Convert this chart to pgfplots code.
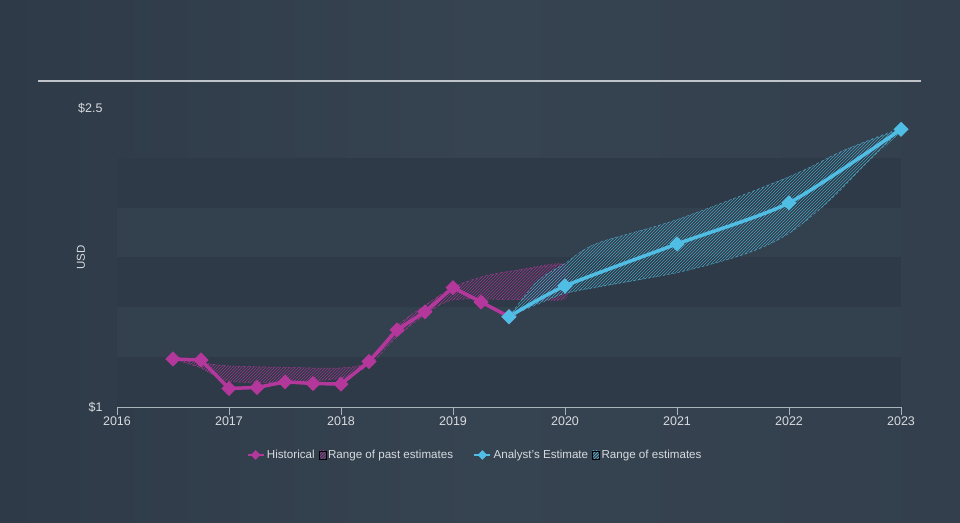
\documentclass[border=0pt]{standalone}
\usepackage{fontspec}
\setmainfont{Liberation Sans}
\usepackage{pgfplots}
\pgfplotsset{compat=1.18}
\usetikzlibrary{patterns}
\definecolor{bgcol}{RGB}{51,63,77}
\definecolor{bgleft}{RGB}{46,58,71}
\definecolor{bgmid}{RGB}{54,67,81}
\definecolor{darkband}{RGB}{46,58,71}
\definecolor{lightband}{RGB}{51,64,78}
\definecolor{topline}{RGB}{190,196,202}
\definecolor{tickcol}{RGB}{170,178,186}
\definecolor{lbl}{RGB}{215,219,223}
\definecolor{magcol}{RGB}{180,55,155}
\definecolor{cyancol}{RGB}{80,190,228}
\colorlet{maghatch}{magcol!80!bgcol}
\colorlet{cyanhatch}{cyancol!75!bgcol}
\begin{document}
\begin{tikzpicture}
\shade[left color=bgleft, right color=bgcol, middle color=bgmid] (0,0) rectangle (960pt,522pt);
\useasboundingbox (0,0) rectangle (960pt,522pt);
\draw[topline, line width=1.2pt] (38pt,441pt) -- (921pt,441pt);
\begin{axis}[
  at={(117pt,115pt)}, anchor=south west,
  scale only axis, width=784pt, height=299pt,
  xmin=2016, xmax=2023, ymin=1, ymax=2.5,
  clip=false,
  axis x line*=bottom, axis y line*=left,
  y axis line style={draw=none},
  x axis line style={tickcol, line width=0.8pt},
  xtick={2016,2017,2018,2019,2020,2021,2022,2023},
  xticklabels={2016,2017,2018,2019,2020,2021,2022,2023},
  ytick={1,2.5}, yticklabels={\$1,\$2.5},
  tick align=outside, major tick length=8pt,
  xtick style={tickcol, line width=0.8pt},
  ytick style={draw=none},
  tick label style={font=\fontsize{12.5}{14}\selectfont, text=lbl},
  xticklabel style={yshift=2pt},
  yticklabel style={xshift=-3pt},
  ylabel={USD},
  every axis y label/.style={at={(rel axis cs:0,0.5)}, xshift=-36pt, rotate=90, anchor=center, font=\fontsize{11.5}{13}\selectfont, text=lbl},
  legend columns=4,
  legend style={at={(0.4566,-0.1605)}, anchor=center, draw=none, fill=none,
    font=\fontsize{11.6}{13}\selectfont, text=lbl,
    /tikz/every even column/.append style={column sep=2pt}},
  legend cell align=left,
]
% bands
\addplot[forget plot, draw=none, fill=darkband] coordinates {(2016,1) (2023,1) (2023,1.25) (2016,1.25)} -- cycle;
\addplot[forget plot, draw=none, fill=lightband] coordinates {(2016,1.25) (2023,1.25) (2023,1.5) (2016,1.5)} -- cycle;
\addplot[forget plot, draw=none, fill=darkband] coordinates {(2016,1.5) (2023,1.5) (2023,1.75) (2016,1.75)} -- cycle;
\addplot[forget plot, draw=none, fill=lightband] coordinates {(2016,1.75) (2023,1.75) (2023,2.0) (2016,2.0)} -- cycle;
\addplot[forget plot, draw=none, fill=darkband] coordinates {(2016,2.0) (2023,2.0) (2023,2.25) (2016,2.25)} -- cycle;

\addlegendimage{legend image code/.code={\draw[magcol, line width=2.5pt] (0pt,0pt) -- (16pt,0pt); \fill[magcol] (8pt,4.5pt) -- (12.5pt,0pt) -- (8pt,-4.5pt) -- (3.5pt,0pt) -- cycle;}}
\addlegendentry{Historical}
\addlegendimage{legend image code/.code={\fill[pattern=north east lines, pattern color=magcol] (0pt,-4pt) rectangle (7pt,4pt);}}
\addlegendentry{Range of past estimates}
\addlegendimage{legend image code/.code={\path (-17pt,0pt); \draw[cyancol, line width=2.5pt] (0pt,0pt) -- (16pt,0pt); \fill[cyancol] (8pt,4.5pt) -- (12.5pt,0pt) -- (8pt,-4.5pt) -- (3.5pt,0pt) -- cycle;}}
\addlegendentry{Analyst's Estimate}
\addlegendimage{legend image code/.code={\fill[pattern=north east lines, pattern color=cyancol] (0pt,-4pt) rectangle (7pt,4pt);}}
\addlegendentry{Range of estimates}

% past estimate range (fill)
\addplot[forget plot, draw=none, pattern=north east lines, pattern color=maghatch, smooth, tension=0.5] coordinates {
(2016.5,1.241) (2016.75,1.222) (2017,1.206) (2017.5,1.199) (2018,1.196) (2018.25,1.23) (2018.5,1.405) (2018.75,1.51) (2019,1.60) (2019.25,1.652) (2019.5,1.68) (2020,1.717)
(2020,1.542) (2019.5,1.54) (2019,1.537) (2018.75,1.462) (2018.5,1.351) (2018.25,1.211) (2018,1.145) (2017.5,1.125) (2017,1.13) (2016.75,1.196)} -- cycle;
\addplot[forget plot, maghatch, densely dashed, line width=0.5pt, smooth, tension=0.5] coordinates {
(2016.5,1.241) (2016.75,1.222) (2017,1.206) (2017.5,1.199) (2018,1.196) (2018.25,1.23) (2018.5,1.405) (2018.75,1.51) (2019,1.60) (2019.25,1.652) (2019.5,1.68) (2020,1.717)};
\addplot[forget plot, maghatch, densely dashed, line width=0.5pt, smooth, tension=0.5] coordinates {
(2016.5,1.241) (2016.75,1.196) (2017,1.13) (2017.5,1.125) (2018,1.145) (2018.25,1.211) (2018.5,1.351) (2018.75,1.462) (2019,1.537) (2019.5,1.54) (2020,1.542)};

% analyst range (fill)
\addplot[forget plot, draw=none, pattern=north east lines, pattern color=cyanhatch, smooth, tension=0.5] coordinates {
(2019.5,1.453) (2019.75,1.629) (2020,1.72) (2020.28,1.82) (2021,1.94) (2022,2.155) (2022.5,2.29) (2023,2.393)
(2022.66,2.206) (2022.37,2.04) (2022,1.871) (2021.62,1.77) (2021,1.674) (2020,1.57)} -- cycle;
\addplot[forget plot, cyanhatch, densely dashed, line width=0.5pt, smooth, tension=0.5] coordinates {
(2019.5,1.453) (2019.75,1.629) (2020,1.72) (2020.28,1.82) (2021,1.94) (2022,2.155) (2022.5,2.29) (2023,2.393)};
\addplot[forget plot, cyanhatch, densely dashed, line width=0.5pt, smooth, tension=0.5] coordinates {
(2019.5,1.453) (2020,1.57) (2021,1.674) (2021.62,1.77) (2022,1.871) (2022.37,2.04) (2022.66,2.206) (2023,2.393)};

% historical
\addplot[forget plot, magcol, line width=3.5pt, mark=square*, mark options={rotate=45}, mark size=3.6pt] coordinates {
(2016.5,1.241) (2016.75,1.236) (2017.0,1.093) (2017.25,1.098) (2017.5,1.126) (2017.75,1.118) (2018.0,1.115) (2018.25,1.228) (2018.5,1.387) (2018.75,1.477) (2019.0,1.599) (2019.25,1.527) (2019.5,1.453)};
% analyst
\addplot[forget plot, cyancol, line width=3.5pt, smooth, tension=0.4, mark=square*, mark options={rotate=45}, mark size=3.6pt] coordinates {
(2019.5,1.453) (2020,1.607) (2021,1.818) (2022,2.024) (2023,2.393)};
\end{axis}
\end{tikzpicture}
\end{document}
